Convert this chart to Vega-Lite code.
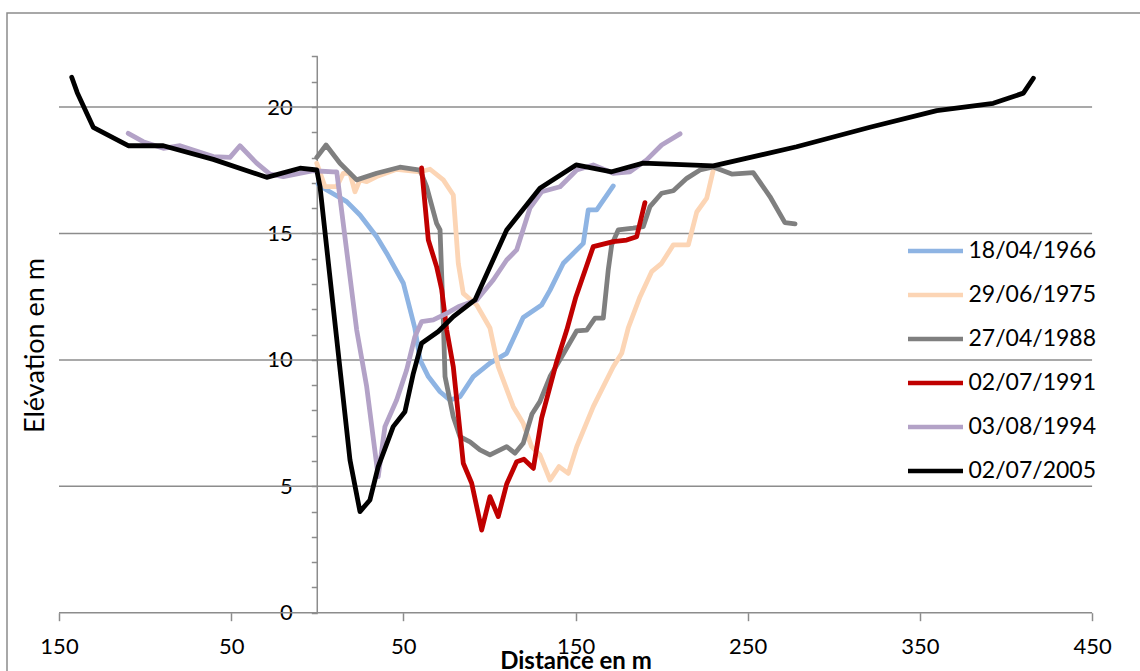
{
  "$schema": "https://vega.github.io/schema/vega-lite/v6.json",
  "width": 1140,
  "height": 670,
  "autosize": {"type": "none"},
  "padding": {"left": 7, "top": 13, "right": 0, "bottom": 0},
  "background": "white",
  "config": {
    "view": {"stroke": "#8c8c8c", "strokeWidth": 1.5},
    "font": "Lato",
    "axisX": {
      "labelExpr": "'' + abs(datum.value)",
      "grid": false, "domain": false,
      "tickColor": "#8c8c8c", "tickWidth": 1.5, "tickSize": 8,
      "labelFontSize": 22, "labelColor": "black", "labelPadding": 16,
      "labelFlush": false, "labelOverlap": false,
      "titleFontSize": 24, "titleFontWeight": "bold",
      "titleColor": "black", "titleX": 568.5, "titleY": 55.5,
      "titleBaseline": "alphabetic", "titleAlign": "center"
    },
    "axisY": {
      "labelExpr": "datum.value % 5 === 0 ? datum.label : ''",
      "grid": false, "domain": false,
      "tickColor": "#8c8c8c", "tickWidth": 1.5, "tickSize": 6,
      "labelFontSize": 22, "labelColor": "black", "labelPadding": 19,
      "labelFlush": false, "labelOverlap": false, "labelBaseline": "middle",
      "titleFontSize": 27, "titleFontWeight": "normal",
      "titleColor": "black", "titleX": -274.3, "titleY": 332,
      "titleAngle": -90, "titleBaseline": "alphabetic", "titleAlign": "center"
    }
  },
  "datasets": {
    "grid": [{"g": 0}, {"g": 5}, {"g": 10}, {"g": 15}, {"g": 20}],
    "profiles": [
      {"date": "18/04/1966", "d": 0.5, "z": 16.95},
      {"date": "18/04/1966", "d": 5.5, "z": 16.72},
      {"date": "18/04/1966", "d": 17.1, "z": 16.26},
      {"date": "18/04/1966", "d": 24.8, "z": 15.73},
      {"date": "18/04/1966", "d": 34.5, "z": 14.87},
      {"date": "18/04/1966", "d": 40.3, "z": 14.22},
      {"date": "18/04/1966", "d": 50.0, "z": 13.03},
      {"date": "18/04/1966", "d": 56.7, "z": 11.25},
      {"date": "18/04/1966", "d": 59.7, "z": 10.0},
      {"date": "18/04/1966", "d": 64.5, "z": 9.34},
      {"date": "18/04/1966", "d": 71.3, "z": 8.74},
      {"date": "18/04/1966", "d": 77.1, "z": 8.41},
      {"date": "18/04/1966", "d": 82.9, "z": 8.54},
      {"date": "18/04/1966", "d": 90.6, "z": 9.34},
      {"date": "18/04/1966", "d": 100.3, "z": 9.87},
      {"date": "18/04/1966", "d": 110.0, "z": 10.26},
      {"date": "18/04/1966", "d": 119.6, "z": 11.68},
      {"date": "18/04/1966", "d": 130.3, "z": 12.17},
      {"date": "18/04/1966", "d": 135.2, "z": 12.76},
      {"date": "18/04/1966", "d": 142.9, "z": 13.82},
      {"date": "18/04/1966", "d": 154.5, "z": 14.61},
      {"date": "18/04/1966", "d": 157.4, "z": 15.93},
      {"date": "18/04/1966", "d": 162.3, "z": 15.93},
      {"date": "18/04/1966", "d": 171.9, "z": 16.88},

      {"date": "29/06/1975", "d": -0.3, "z": 17.78},
      {"date": "29/06/1975", "d": 4.5, "z": 16.85},
      {"date": "29/06/1975", "d": 11.3, "z": 16.85},
      {"date": "29/06/1975", "d": 15.1, "z": 17.38},
      {"date": "29/06/1975", "d": 19.0, "z": 17.38},
      {"date": "29/06/1975", "d": 21.9, "z": 16.65},
      {"date": "29/06/1975", "d": 24.8, "z": 17.12},
      {"date": "29/06/1975", "d": 28.7, "z": 17.05},
      {"date": "29/06/1975", "d": 34.5, "z": 17.25},
      {"date": "29/06/1975", "d": 46.1, "z": 17.54},
      {"date": "29/06/1975", "d": 59.7, "z": 17.44},
      {"date": "29/06/1975", "d": 65.5, "z": 17.54},
      {"date": "29/06/1975", "d": 73.2, "z": 17.12},
      {"date": "29/06/1975", "d": 79.0, "z": 16.52},
      {"date": "29/06/1975", "d": 81.9, "z": 13.82},
      {"date": "29/06/1975", "d": 84.8, "z": 12.63},
      {"date": "29/06/1975", "d": 92.6, "z": 12.17},
      {"date": "29/06/1975", "d": 100.3, "z": 11.26},
      {"date": "29/06/1975", "d": 105.1, "z": 9.73},
      {"date": "29/06/1975", "d": 113.8, "z": 8.15},
      {"date": "29/06/1975", "d": 119.6, "z": 7.49},
      {"date": "29/06/1975", "d": 124.5, "z": 6.57},
      {"date": "29/06/1975", "d": 129.3, "z": 6.24},
      {"date": "29/06/1975", "d": 135.2, "z": 5.25},
      {"date": "29/06/1975", "d": 140.4, "z": 5.78},
      {"date": "29/06/1975", "d": 145.8, "z": 5.51},
      {"date": "29/06/1975", "d": 150.7, "z": 6.57},
      {"date": "29/06/1975", "d": 160.3, "z": 8.15},
      {"date": "29/06/1975", "d": 171.9, "z": 9.73},
      {"date": "29/06/1975", "d": 176.8, "z": 10.26},
      {"date": "29/06/1975", "d": 180.6, "z": 11.26},
      {"date": "29/06/1975", "d": 187.4, "z": 12.49},
      {"date": "29/06/1975", "d": 194.2, "z": 13.49},
      {"date": "29/06/1975", "d": 200.0, "z": 13.82},
      {"date": "29/06/1975", "d": 206.8, "z": 14.55},
      {"date": "29/06/1975", "d": 215.5, "z": 14.55},
      {"date": "29/06/1975", "d": 220.4, "z": 15.85},
      {"date": "29/06/1975", "d": 226.2, "z": 16.4},
      {"date": "29/06/1975", "d": 230.0, "z": 17.51},

      {"date": "27/04/1988", "d": -0.3, "z": 18.01},
      {"date": "27/04/1988", "d": 5.1, "z": 18.5},
      {"date": "27/04/1988", "d": 13.2, "z": 17.78},
      {"date": "27/04/1988", "d": 22.9, "z": 17.12},
      {"date": "27/04/1988", "d": 34.5, "z": 17.38},
      {"date": "27/04/1988", "d": 48.0, "z": 17.62},
      {"date": "27/04/1988", "d": 59.7, "z": 17.51},
      {"date": "27/04/1988", "d": 63.5, "z": 16.85},
      {"date": "27/04/1988", "d": 69.3, "z": 15.4},
      {"date": "27/04/1988", "d": 71.3, "z": 15.14},
      {"date": "27/04/1988", "d": 73.2, "z": 11.58},
      {"date": "27/04/1988", "d": 74.2, "z": 9.34},
      {"date": "27/04/1988", "d": 79.0, "z": 7.75},
      {"date": "27/04/1988", "d": 82.9, "z": 6.96},
      {"date": "27/04/1988", "d": 88.7, "z": 6.76},
      {"date": "27/04/1988", "d": 94.5, "z": 6.44},
      {"date": "27/04/1988", "d": 100.3, "z": 6.24},
      {"date": "27/04/1988", "d": 110.0, "z": 6.57},
      {"date": "27/04/1988", "d": 114.8, "z": 6.31},
      {"date": "27/04/1988", "d": 119.6, "z": 6.7},
      {"date": "27/04/1988", "d": 124.7, "z": 7.86},
      {"date": "27/04/1988", "d": 129.3, "z": 8.35},
      {"date": "27/04/1988", "d": 135.2, "z": 9.34},
      {"date": "27/04/1988", "d": 142.9, "z": 10.23},
      {"date": "27/04/1988", "d": 150.7, "z": 11.15},
      {"date": "27/04/1988", "d": 156.5, "z": 11.18},
      {"date": "27/04/1988", "d": 161.3, "z": 11.65},
      {"date": "27/04/1988", "d": 166.1, "z": 11.65},
      {"date": "27/04/1988", "d": 169.0, "z": 13.56},
      {"date": "27/04/1988", "d": 171.0, "z": 14.55},
      {"date": "27/04/1988", "d": 174.8, "z": 15.14},
      {"date": "27/04/1988", "d": 183.5, "z": 15.21},
      {"date": "27/04/1988", "d": 189.3, "z": 15.27},
      {"date": "27/04/1988", "d": 193.2, "z": 16.06},
      {"date": "27/04/1988", "d": 200.0, "z": 16.59},
      {"date": "27/04/1988", "d": 206.8, "z": 16.69},
      {"date": "27/04/1988", "d": 214.6, "z": 17.18},
      {"date": "27/04/1988", "d": 222.3, "z": 17.51},
      {"date": "27/04/1988", "d": 230.0, "z": 17.63},
      {"date": "27/04/1988", "d": 240.7, "z": 17.35},
      {"date": "27/04/1988", "d": 253.2, "z": 17.41},
      {"date": "27/04/1988", "d": 262.9, "z": 16.46},
      {"date": "27/04/1988", "d": 271.6, "z": 15.43},
      {"date": "27/04/1988", "d": 277.5, "z": 15.38},

      {"date": "02/07/1991", "d": 60.6, "z": 17.59},
      {"date": "02/07/1991", "d": 64.5, "z": 14.74},
      {"date": "02/07/1991", "d": 69.3, "z": 13.69},
      {"date": "02/07/1991", "d": 72.3, "z": 12.77},
      {"date": "02/07/1991", "d": 75.2, "z": 11.18},
      {"date": "02/07/1991", "d": 79.0, "z": 9.73},
      {"date": "02/07/1991", "d": 84.8, "z": 5.91},
      {"date": "02/07/1991", "d": 89.7, "z": 5.12},
      {"date": "02/07/1991", "d": 95.5, "z": 3.27},
      {"date": "02/07/1991", "d": 100.3, "z": 4.59},
      {"date": "02/07/1991", "d": 105.1, "z": 3.8},
      {"date": "02/07/1991", "d": 110.0, "z": 5.09},
      {"date": "02/07/1991", "d": 115.8, "z": 5.97},
      {"date": "02/07/1991", "d": 120.0, "z": 6.07},
      {"date": "02/07/1991", "d": 125.5, "z": 5.71},
      {"date": "02/07/1991", "d": 130.3, "z": 7.7},
      {"date": "02/07/1991", "d": 139.0, "z": 9.92},
      {"date": "02/07/1991", "d": 144.9, "z": 11.18},
      {"date": "02/07/1991", "d": 150.2, "z": 12.49},
      {"date": "02/07/1991", "d": 160.3, "z": 14.48},
      {"date": "02/07/1991", "d": 171.9, "z": 14.68},
      {"date": "02/07/1991", "d": 179.7, "z": 14.74},
      {"date": "02/07/1991", "d": 185.5, "z": 14.87},
      {"date": "02/07/1991", "d": 190.3, "z": 16.22},

      {"date": "03/08/1994", "d": -109.8, "z": 18.96},
      {"date": "03/08/1994", "d": -101.1, "z": 18.63},
      {"date": "03/08/1994", "d": -89.4, "z": 18.37},
      {"date": "03/08/1994", "d": -79.7, "z": 18.47},
      {"date": "03/08/1994", "d": -60.4, "z": 18.04},
      {"date": "03/08/1994", "d": -50.7, "z": 18.01},
      {"date": "03/08/1994", "d": -44.9, "z": 18.47},
      {"date": "03/08/1994", "d": -35.2, "z": 17.78},
      {"date": "03/08/1994", "d": -27.5, "z": 17.35},
      {"date": "03/08/1994", "d": -19.7, "z": 17.25},
      {"date": "03/08/1994", "d": -2.3, "z": 17.48},
      {"date": "03/08/1994", "d": 9.3, "z": 17.44},
      {"date": "03/08/1994", "d": 11.3, "z": 17.44},
      {"date": "03/08/1994", "d": 22.9, "z": 11.18},
      {"date": "03/08/1994", "d": 28.7, "z": 8.94},
      {"date": "03/08/1994", "d": 35.4, "z": 5.38},
      {"date": "03/08/1994", "d": 39.3, "z": 7.36},
      {"date": "03/08/1994", "d": 46.1, "z": 8.41},
      {"date": "03/08/1994", "d": 51.9, "z": 9.6},
      {"date": "03/08/1994", "d": 56.7, "z": 10.92},
      {"date": "03/08/1994", "d": 60.6, "z": 11.51},
      {"date": "03/08/1994", "d": 67.4, "z": 11.58},
      {"date": "03/08/1994", "d": 75.2, "z": 11.84},
      {"date": "03/08/1994", "d": 81.9, "z": 12.1},
      {"date": "03/08/1994", "d": 92.6, "z": 12.37},
      {"date": "03/08/1994", "d": 102.2, "z": 13.16},
      {"date": "03/08/1994", "d": 110.0, "z": 13.95},
      {"date": "03/08/1994", "d": 115.8, "z": 14.35},
      {"date": "03/08/1994", "d": 123.5, "z": 16.0},
      {"date": "03/08/1994", "d": 130.3, "z": 16.65},
      {"date": "03/08/1994", "d": 141.0, "z": 16.85},
      {"date": "03/08/1994", "d": 150.7, "z": 17.51},
      {"date": "03/08/1994", "d": 160.3, "z": 17.71},
      {"date": "03/08/1994", "d": 171.9, "z": 17.38},
      {"date": "03/08/1994", "d": 181.6, "z": 17.44},
      {"date": "03/08/1994", "d": 191.3, "z": 17.91},
      {"date": "03/08/1994", "d": 200.0, "z": 18.5},
      {"date": "03/08/1994", "d": 210.7, "z": 18.94},

      {"date": "02/07/2005", "d": -142.6, "z": 21.18},
      {"date": "02/07/2005", "d": -139.4, "z": 20.57},
      {"date": "02/07/2005", "d": -130.1, "z": 19.2},
      {"date": "02/07/2005", "d": -109.8, "z": 18.47},
      {"date": "02/07/2005", "d": -89.4, "z": 18.47},
      {"date": "02/07/2005", "d": -60.4, "z": 17.93},
      {"date": "02/07/2005", "d": -29.4, "z": 17.22},
      {"date": "02/07/2005", "d": -10.0, "z": 17.58},
      {"date": "02/07/2005", "d": -0.3, "z": 17.51},
      {"date": "02/07/2005", "d": 1.6, "z": 16.85},
      {"date": "02/07/2005", "d": 19.0, "z": 6.04},
      {"date": "02/07/2005", "d": 24.8, "z": 4.0},
      {"date": "02/07/2005", "d": 30.6, "z": 4.46},
      {"date": "02/07/2005", "d": 35.4, "z": 5.78},
      {"date": "02/07/2005", "d": 44.1, "z": 7.36},
      {"date": "02/07/2005", "d": 50.9, "z": 7.95},
      {"date": "02/07/2005", "d": 55.8, "z": 9.47},
      {"date": "02/07/2005", "d": 60.6, "z": 10.66},
      {"date": "02/07/2005", "d": 70.3, "z": 11.12},
      {"date": "02/07/2005", "d": 79.0, "z": 11.71},
      {"date": "02/07/2005", "d": 91.6, "z": 12.37},
      {"date": "02/07/2005", "d": 110.0, "z": 15.14},
      {"date": "02/07/2005", "d": 129.3, "z": 16.79},
      {"date": "02/07/2005", "d": 150.3, "z": 17.71},
      {"date": "02/07/2005", "d": 171.0, "z": 17.44},
      {"date": "02/07/2005", "d": 189.3, "z": 17.78},
      {"date": "02/07/2005", "d": 230.0, "z": 17.67},
      {"date": "02/07/2005", "d": 278.4, "z": 18.43},
      {"date": "02/07/2005", "d": 321.0, "z": 19.2},
      {"date": "02/07/2005", "d": 359.8, "z": 19.86},
      {"date": "02/07/2005", "d": 392.6, "z": 20.15},
      {"date": "02/07/2005", "d": 410.1, "z": 20.55},
      {"date": "02/07/2005", "d": 415.9, "z": 21.14}
    ]
  },
  "layer": [
    {
      "data": {"name": "grid"},
      "mark": {"type": "rule", "color": "#8c8c8c", "strokeWidth": 1.5},
      "encoding": {
        "y": {
          "field": "g", "type": "quantitative", "title": "Elévation en m",
          "scale": {"domain": [-2.78, 23.72], "nice": false, "zero": false},
          "axis": {
            "orient": "left", "offset": -310.3,
            "values": [0, 1, 2, 3, 4, 5, 6, 7, 8, 9, 10, 11, 12, 13, 14, 15, 16, 17, 18, 19, 20, 21, 22],
            "labelOverlap": false
          }
        },
        "x": {
          "datum": -150, "type": "quantitative", "title": "Distance en m",
          "scale": {"domain": [-180.2, 481.9], "nice": false, "zero": false},
          "axis": {
            "orient": "bottom", "offset": -70.3,
            "values": [-150, -50, 50, 150, 250, 350, 450],
            "labelOverlap": false
          }
        },
        "x2": {"datum": 450}
      }
    },
    {
      "data": {"name": "grid"},
      "transform": [{"filter": "datum.g === 0"}],
      "mark": {"type": "rule", "color": "#8c8c8c", "strokeWidth": 1.5},
      "encoding": {
        "x": {
          "datum": 0, "type": "quantitative", "title": "Distance en m",
          "axis": {
            "orient": "bottom", "offset": -70.3,
            "values": [-150, -50, 50, 150, 250, 350, 450],
            "labelOverlap": false
          }
        },
        "y": {
          "datum": 0, "type": "quantitative", "title": "Elévation en m",
          "axis": {
            "orient": "left", "offset": -310.3,
            "values": [0, 1, 2, 3, 4, 5, 6, 7, 8, 9, 10, 11, 12, 13, 14, 15, 16, 17, 18, 19, 20, 21, 22],
            "labelOverlap": false
          }
        },
        "y2": {"datum": 22}
      }
    },
    {
      "data": {"name": "profiles"},
      "mark": {"type": "line", "strokeWidth": 4.8, "strokeCap": "round", "strokeJoin": "round"},
      "encoding": {
        "x": {
          "field": "d", "type": "quantitative", "title": "Distance en m",
          "axis": {
            "orient": "bottom", "offset": -70.3,
            "values": [-150, -50, 50, 150, 250, 350, 450],
            "labelOverlap": false
          }
        },
        "y": {
          "field": "z", "type": "quantitative", "title": "Elévation en m",
          "axis": {
            "orient": "left", "offset": -310.3,
            "values": [0, 1, 2, 3, 4, 5, 6, 7, 8, 9, 10, 11, 12, 13, 14, 15, 16, 17, 18, 19, 20, 21, 22],
            "labelOverlap": false
          }
        },
        "color": {
          "field": "date", "type": "nominal",
          "scale": {
            "domain": ["18/04/1966", "29/06/1975", "27/04/1988", "02/07/1991", "03/08/1994", "02/07/2005"],
            "range": ["#8EB4E3", "#FCD5B5", "#7F7F7F", "#C00000", "#B3A2C7", "#000000"]
          },
          "legend": {
            "title": null, "orient": "none", "legendX": 898.5, "legendY": 216,
            "symbolType": "stroke", "symbolSize": 3025, "symbolStrokeWidth": 4.5,
            "clipHeight": 44, "rowPadding": 0, "padding": 0,
            "labelFontSize": 23, "labelColor": "black", "labelOffset": 3,
            "labelLimit": 300
          }
        }
      }
    }
  ]
}
